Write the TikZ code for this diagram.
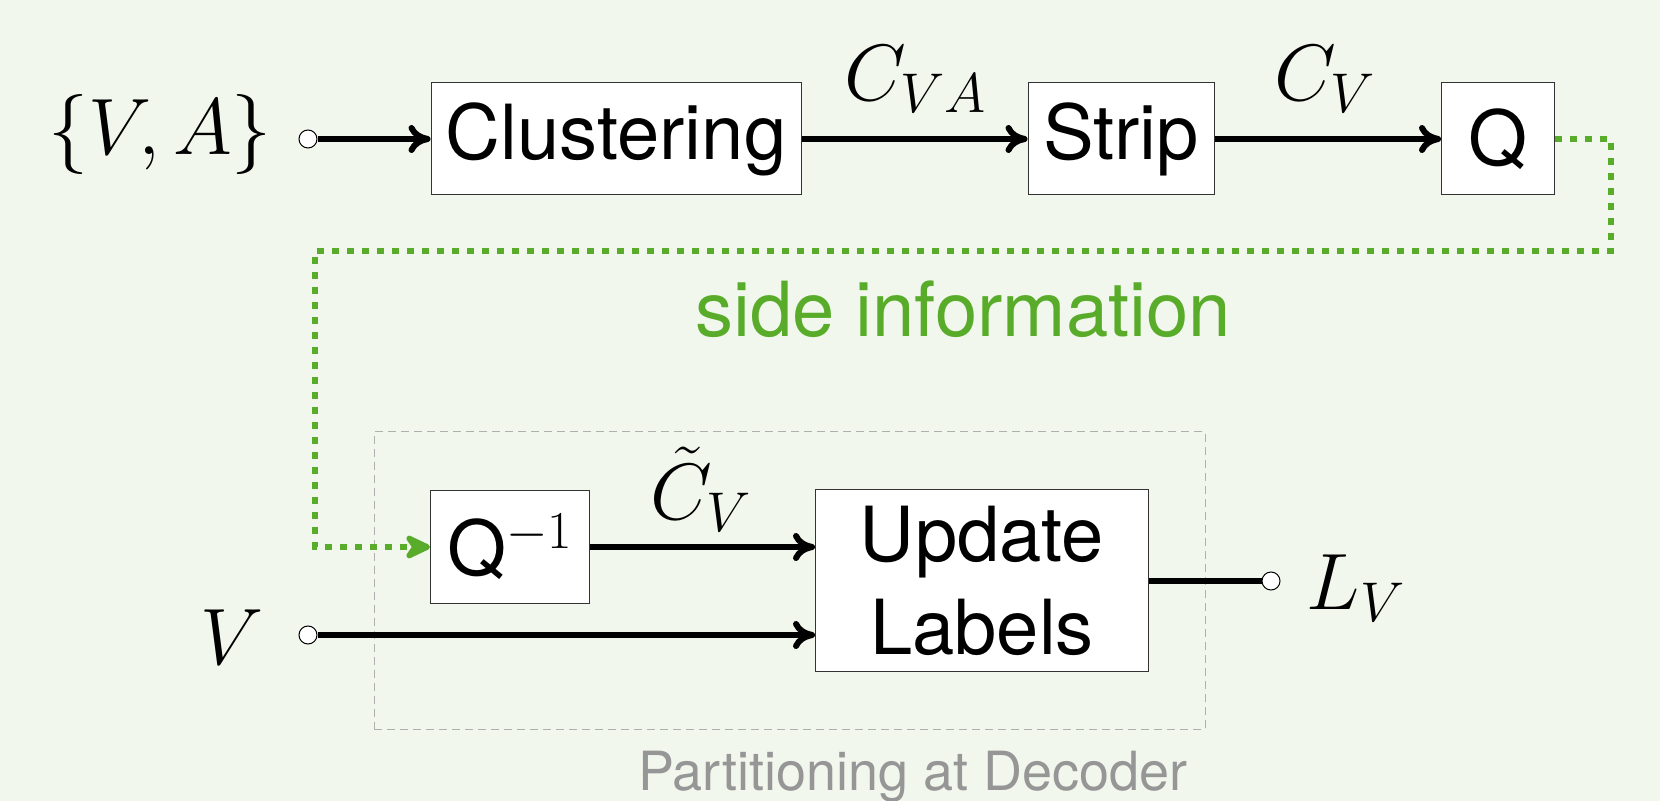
\RequirePackage{fix-cm}
\documentclass[tikz,border=0pt]{standalone}
\usepackage[no-math]{fontspec}
\newfontfamily\hv{TeX Gyre Heros}
\usetikzlibrary{arrows.meta}
\definecolor{bgc}{RGB}{241,247,236}
\definecolor{sidegreen}{RGB}{88,172,42}
\definecolor{capgray}{RGB}{150,150,150}
\definecolor{boxgray}{RGB}{175,175,175}
\begin{document}
\begin{tikzpicture}[x=0.5pt,y=-0.5pt,
  blk/.style={draw=black!80,line width=0.5pt,fill=white,font=\hv\fontsize{38}{46.5}\selectfont,inner sep=0pt,align=center},
  lbl/.style={font=\fontsize{40}{48}\selectfont,inner sep=0pt},
  port/.style={circle,draw=black,line width=0.5pt,fill=white,inner sep=0pt,minimum size=9pt},
  sig/.style={line width=3pt,-{Computer Modern Rightarrow[length=11pt,width=14pt]}},
  side/.style={sidegreen,line width=3.2pt,dash pattern=on 3.5pt off 4pt,-{Stealth[length=16pt,width=15pt,inset=5pt,round]}}
]
\fill[bgc] (0,0) rectangle (1660,801);
\useasboundingbox (0,0) rectangle (1660,801);
% decoder frame
\node[draw=boxgray,line width=0.5pt,dash pattern=on 4pt off 2.5pt,minimum width=415.5pt,minimum height=148.5pt,inner sep=0pt] (dec) at (789.5,580.5) {};
% top row
\node[blk,minimum width=185pt,minimum height=56pt] (clust) at (616,139) {Clustering};
\node[blk,minimum width=93pt,minimum height=56pt] (strip) at (1121,139) {Strip};
\node[blk,minimum width=56.5pt,minimum height=56pt] (q) at (1498,139) {Q};
\node[port] (in1) at (308,139) {};
\node[lbl] (va) at (160,135) {$\{V,A\}$};
\node[lbl] (cva) at (916,79) {$C_{VA}$};
\node[lbl] (cv) at (1325,79) {$C_V$};
% bottom row
\node[blk,minimum width=79.5pt,minimum height=56.5pt] (qinv) at (510,547) {Q$^{-1}$};
\node[blk,minimum width=166.5pt,minimum height=91pt] (upd) at (982,581) {Update\\Labels};
\node[lbl] (ctv) at (701,489) {$\tilde{C}_V$};
\node[lbl] (v) at (232,637) {$V$};
\node[port] (in2) at (308,635) {};
\node[port] (out) at (1271,581) {};
\node[lbl] (lv) at (1356,588) {$L_V$};
% texts
\node[font=\hv\fontsize{38}{46}\selectfont,text=sidegreen,anchor=base,inner sep=0pt] (si) at (963,337) {side information};
\node[font=\hv\fontsize{27}{30}\selectfont,text=capgray,anchor=base,inner sep=0pt] (cap) at (913,790) {Partitioning at Decoder};
% side path
\coordinate (t1) at (1611,139);
\coordinate (t2) at (1611,251);
\coordinate (t3) at (315,251);
\coordinate (t4) at (315,547);
\draw[side] (q.east) -- (t1) -- (t2) -- (t3) -- (t4) -- (qinv.west);
% connectors
\draw[sig] (in1) -- (clust);
\draw[sig] (clust) -- (strip);
\draw[sig] (strip) -- (q);
\draw[sig] (qinv.east) -- (upd.west |- qinv.east);
\draw[sig] (in2) -- (upd.west |- in2);
\draw[line width=3pt] (upd.east |- out) -- (out);
\end{tikzpicture}
\end{document}
